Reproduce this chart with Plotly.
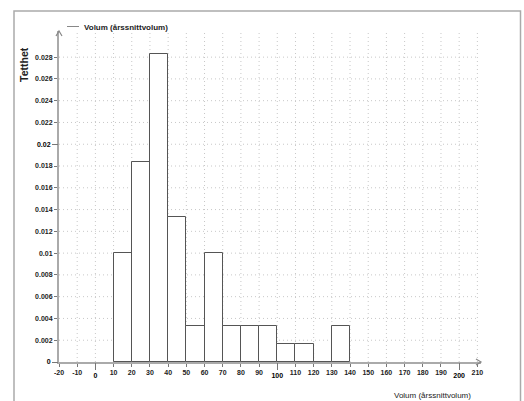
import plotly.graph_objects as go

# Histogram data (density), bin width 10
bin_left = [10, 20, 30, 40, 50, 60, 70, 80, 90, 100, 110, 120, 130]
density = [0.01, 0.01833, 0.02833, 0.01333, 0.00333, 0.01, 0.00333, 0.00333,
           0.00333, 0.00167, 0.00167, 0.0, 0.00333]
bin_width = 10
series_name = "Volum (årssnittvolum)"
y_title = "Tetthet"
x_title = "Volum (årssnittvolum)"

x_minor_ticks = [v for v in range(-20, 211, 10) if v not in (0, 100, 200)]
x_major_ticks = [0, 100, 200]
x_grid = list(range(-10, 211, 10))
y_minor_ticks = [0.002, 0.004, 0.006, 0.008, 0.01, 0.012, 0.014, 0.016, 0.018,
                 0.022, 0.024, 0.026, 0.028]
y_major_ticks = [0, 0.02]
y_grid = [0.002, 0.004, 0.006, 0.008, 0.01, 0.012, 0.014, 0.016, 0.018, 0.02,
          0.022, 0.024, 0.026, 0.028]


def fmt(v):
    s = ("%.3f" % v).rstrip("0").rstrip(".")
    return s if s else "0"


X_RANGE = [-20, 212]
Y_RANGE = [0, 0.0304]
L, R, T, B = 59, 43, 31, 39
W, H = 524, 401
PW, PH = W - L - R, H - T - B


def px2paper_x(px):
    return (px - L) / PW


def px2paper_y(py):
    return (H - B - py) / PH


centers = [b + bin_width / 2 for b in bin_left]

fig = go.Figure()
fig.add_trace(go.Bar(
    x=centers, y=density, width=bin_width,
    marker=dict(color="white", line=dict(color="#555555", width=1)),
    name=series_name, showlegend=False, hoverinfo="x+y",
))
fig.add_trace(go.Scatter(x=[None], y=[None], xaxis="x2", yaxis="y2",
                         showlegend=False, hoverinfo="skip"))

FONT = "Liberation Sans, Arial, sans-serif"
tick_font = dict(family=FONT, size=7, color="#222222", weight="bold")
tick_font_major = dict(family=FONT, size=7, color="#000000", weight="bold")

fig.update_layout(
    width=W, height=H,
    margin=dict(l=L, r=R, t=T, b=B, autoexpand=False),
    paper_bgcolor="white", plot_bgcolor="white",
    font=dict(family=FONT, color="#222222"),
    bargap=0,
    xaxis=dict(range=X_RANGE, tickvals=x_minor_ticks,
               ticktext=[str(v) for v in x_minor_ticks],
               ticks="outside", ticklen=3, tickwidth=1, tickcolor="#777777",
               tickfont=tick_font, automargin=False,
               showgrid=False, zeroline=False,
               showline=True, linecolor="#aaaaaa", linewidth=2,
               fixedrange=True),
    xaxis2=dict(range=X_RANGE, overlaying="x", anchor="y", side="bottom",
                tickvals=x_major_ticks, ticktext=[str(v) for v in x_major_ticks],
                ticks="outside", ticklen=7, tickwidth=1, tickcolor="#777777",
                tickfont=tick_font_major, automargin=False,
                showgrid=False, zeroline=False, showline=False, fixedrange=True),
    yaxis=dict(range=Y_RANGE, tickvals=y_minor_ticks,
               ticktext=[fmt(v) for v in y_minor_ticks],
               ticks="outside", ticklen=3, tickwidth=1, tickcolor="#777777",
               tickfont=tick_font, automargin=False,
               showgrid=False, zeroline=False,
               showline=True, linecolor="#aaaaaa", linewidth=2,
               fixedrange=True),
    yaxis2=dict(range=Y_RANGE, overlaying="y", anchor="x", side="left",
                tickvals=y_major_ticks, ticktext=[fmt(v) for v in y_major_ticks],
                ticks="outside", ticklen=6, tickwidth=1, tickcolor="#777777",
                tickfont=tick_font_major, automargin=False,
                showgrid=False, zeroline=False, showline=False, fixedrange=True),
)

shapes = []
grid_line = dict(color="#c8c8c8", width=1, dash="1px,3px")
for v in x_grid:
    shapes.append(dict(type="line", xref="x", yref="paper", x0=v, x1=v, y0=0, y1=1,
                       line=grid_line, layer="below"))
for v in y_grid:
    shapes.append(dict(type="line", xref="x", yref="y", x0=-20, x1=210, y0=v, y1=v,
                       line=grid_line, layer="below"))

# arrow heads at axis ends
arrow_line = dict(color="#888888", width=1.2)
shapes.append(dict(type="path", xref="paper", yref="paper", xsizemode="pixel", ysizemode="pixel",
                   xanchor=1, yanchor=0, path="M-5,3 L0,0 L-5,-3", line=arrow_line))
shapes.append(dict(type="path", xref="paper", yref="paper", xsizemode="pixel", ysizemode="pixel",
                   xanchor=0, yanchor=1, path="M-3,-5 L0,0 L3,-5", line=arrow_line))

# frame
shapes.append(dict(type="rect", xref="paper", yref="paper",
                   x0=px2paper_x(14), x1=px2paper_x(520.5),
                   y0=px2paper_y(440), y1=px2paper_y(11),
                   line=dict(color="#aaaaaa", width=1.5), fillcolor="rgba(0,0,0,0)"))
# legend line
shapes.append(dict(type="line", xref="paper", yref="paper",
                   x0=px2paper_x(67), x1=px2paper_x(79),
                   y0=px2paper_y(26.5), y1=px2paper_y(26.5),
                   line=dict(color="#888888", width=1)))
fig.update_layout(shapes=shapes)

fig.add_annotation(x=px2paper_x(82), y=px2paper_y(27.5), xref="paper", yref="paper",
                   text="<b>" + series_name + "</b>", showarrow=False,
                   xanchor="left", yanchor="middle",
                   font=dict(family=FONT, size=8, color="#222222"))
fig.add_annotation(x=px2paper_x(23.5), y=px2paper_y(64.5), xref="paper", yref="paper",
                   text="<b>" + y_title + "</b>", showarrow=False, textangle=-90,
                   xanchor="center", yanchor="middle",
                   font=dict(family=FONT, size=10.5, color="#222222"))
fig.add_annotation(x=px2paper_x(432.5), y=px2paper_y(395.5), xref="paper", yref="paper",
                   text=x_title, showarrow=False,
                   xanchor="center", yanchor="middle",
                   font=dict(family=FONT, size=8, color="#222222"))

fig.write_html("out.html", config={"displayModeBar": False},
               post_script="document.body.style.margin='0';document.body.style.overflow='hidden';")
